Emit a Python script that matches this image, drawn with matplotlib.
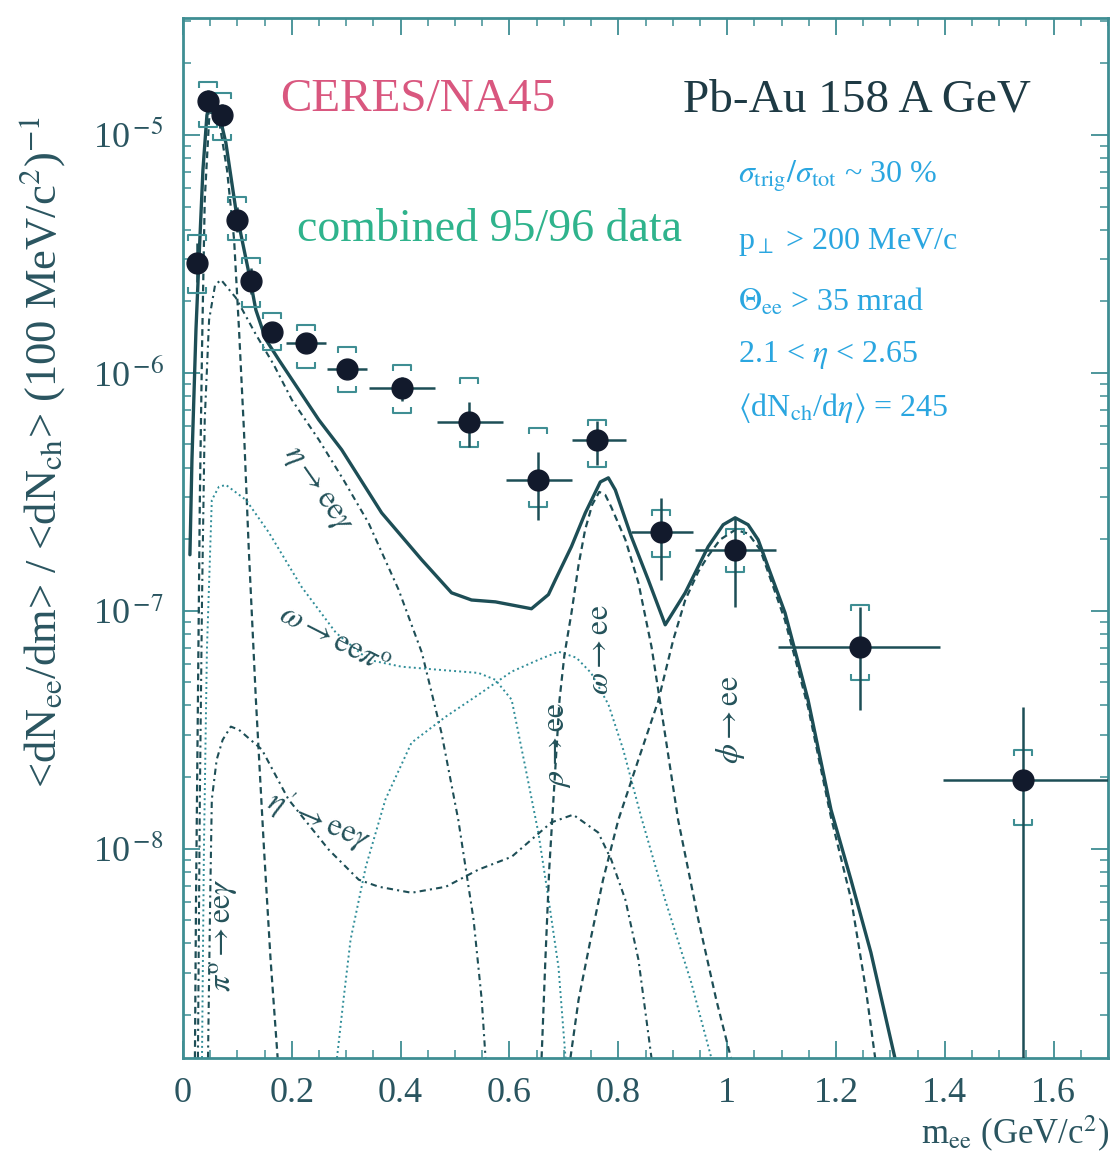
import numpy as np
import matplotlib
matplotlib.use('Agg')
import matplotlib.pyplot as plt
from matplotlib.path import Path
from matplotlib.ticker import MultipleLocator, LogLocator, NullFormatter

# ---------------- data ----------------
mass = [0.026, 0.046, 0.072, 0.099, 0.125, 0.163, 0.226, 0.301, 0.402, 0.525,
        0.653, 0.760, 0.879, 1.015, 1.244, 1.543]
yield_ = [2.9e-6, 1.39e-5, 1.21e-5, 4.4e-6, 2.44e-6, 1.49e-6, 1.34e-6, 1.04e-6,
          8.65e-7, 6.2e-7, 3.55e-7, 5.2e-7, 2.15e-7, 1.8e-7, 7.06e-8, 1.95e-8]
bin_lo = [0.026, 0.046, 0.072, 0.099, 0.125, 0.150, 0.189, 0.264, 0.341, 0.466,
          0.593, 0.714, 0.824, 0.941, 1.094, 1.396]
bin_hi = [0.026, 0.046, 0.072, 0.099, 0.125, 0.178, 0.262, 0.338, 0.464, 0.589,
          0.714, 0.815, 0.938, 1.090, 1.391, 1.700]
stat_hi = [3.5e-6, 1.55e-5, 1.35e-5, 5.0e-6, 2.75e-6, 1.62e-6, 1.45e-6, 1.13e-6,
           9.6e-7, 7.55e-7, 4.65e-7, 6.3e-7, 2.98e-7, 2.48e-7, 1.04e-7, 3.95e-8]
stat_lo = [2.4e-6, 1.22e-5, 1.07e-5, 3.9e-6, 2.15e-6, 1.37e-6, 1.22e-6, 9.5e-7,
           7.6e-7, 4.9e-7, 2.41e-7, 4.1e-7, 1.35e-7, 1.04e-7, 3.84e-8, 1.0e-9]
sys_hi = [3.8e-6, 1.67e-5, 1.5e-5, 5.5e-6, 3.04e-6, 1.79e-6, 1.59e-6, 1.29e-6,
          1.08e-6, 9.5e-7, 5.87e-7, 6.35e-7, 2.65e-7, 2.2e-7, 1.06e-7, 2.61e-8]
sys_lo = [2.17e-6, 1.08e-5, 9.5e-6, 3.62e-6, 1.89e-6, 1.25e-6, 1.05e-6, 8.3e-7,
          6.8e-7, 4.89e-7, 2.73e-7, 4.03e-7, 1.69e-7, 1.45e-7, 5.13e-8, 1.26e-8]

# total cocktail (solid)
tot_m = [0.0128, 0.0165, 0.0239, 0.0294, 0.0367, 0.044, 0.0514, 0.0624, 0.0789, 0.0972,
         0.1211, 0.1339, 0.1523, 0.1761, 0.2128, 0.2495, 0.2917, 0.3651, 0.4385, 0.4936,
         0.5303, 0.5743, 0.6404, 0.6716, 0.6844, 0.7138, 0.7394, 0.767, 0.7817, 0.7945,
         0.8239, 0.855, 0.8862, 0.9229, 0.9651, 0.9927, 1.0147, 1.0385, 1.0569, 1.1064,
         1.1486, 1.1908, 1.2275, 1.2642, 1.3083]
tot_y = [1.72e-7, 4.3e-7, 1.52e-6, 2.99e-6, 7.13e-6, 1.21e-5, 1.43e-5, 1.34e-5, 9.25e-6, 4.84e-6,
         2.63e-6, 1.84e-6, 1.38e-6, 1.135e-6, 8.49e-7, 6.35e-7, 4.75e-7, 2.58e-7, 1.64e-7, 1.19e-7,
         1.11e-7, 1.09e-7, 1.02e-7, 1.17e-7, 1.35e-7, 1.86e-7, 2.58e-7, 3.48e-7, 3.62e-7, 3.22e-7,
         2.05e-7, 1.35e-7, 8.73e-8, 1.19e-7, 1.86e-7, 2.30e-7, 2.46e-7, 2.30e-7, 1.99e-7, 9.8e-8,
         4.23e-8, 1.46e-8, 7.41e-9, 3.66e-9, 1.32e-9]

pi0_m = [0.022, 0.024, 0.0275, 0.031, 0.035, 0.040, 0.048, 0.055, 0.066, 0.081, 0.094,
         0.103, 0.112, 0.121, 0.134, 0.149, 0.161, 0.174]
pi0_y = [1.32e-9, 6.1e-9, 4.23e-8, 2.92e-7, 1.25e-6, 5.33e-6, 1.16e-5, 1.30e-5, 1.16e-5,
         7.13e-6, 3.62e-6, 1.52e-6, 5.77e-7, 1.80e-7, 4.23e-8, 9.9e-9, 3.42e-9, 1.32e-9]

eta_m = [0.0275, 0.031, 0.035, 0.040, 0.048, 0.059, 0.070, 0.097, 0.134, 0.167, 0.200,
         0.250, 0.295, 0.341, 0.396, 0.439, 0.475, 0.506, 0.534, 0.549, 0.556]
eta_y = [1.32e-9, 1.61e-8, 1.11e-7, 6.35e-7, 1.67e-6, 2.34e-6, 2.46e-6, 2.07e-6, 1.45e-6,
         1.08e-6, 7.71e-7, 5.22e-7, 3.55e-7, 2.34e-7, 1.23e-7, 6.67e-8, 3.07e-8, 1.32e-8,
         5.04e-9, 2.32e-9, 1.32e-9]

omd_m = [0.035, 0.0385, 0.044, 0.053, 0.066, 0.079, 0.116, 0.158, 0.218, 0.281, 0.341,
         0.402, 0.470, 0.543, 0.574, 0.604, 0.629, 0.653, 0.672, 0.690, 0.703]
omd_y = [1.32e-9, 9.9e-9, 6.86e-8, 2.92e-7, 3.32e-7, 3.38e-7, 2.92e-7, 2.13e-7, 1.26e-7,
         8.09e-8, 6.22e-8, 5.82e-8, 5.65e-8, 5.48e-8, 5.13e-8, 4.23e-8, 2.21e-8, 1.17e-8,
         6.1e-9, 3.19e-9, 1.32e-9]

etap_m = [0.046, 0.050, 0.053, 0.062, 0.073, 0.088, 0.103, 0.145, 0.194, 0.268, 0.323,
          0.360, 0.420, 0.483, 0.543, 0.604, 0.640, 0.677, 0.717, 0.763, 0.787, 0.813,
          0.837, 0.861]
etap_y = [1.32e-9, 6.1e-9, 1.61e-8, 2.37e-8, 2.87e-8, 3.26e-8, 3.16e-8, 2.61e-8, 1.61e-8,
          9.9e-9, 7.41e-9, 6.92e-9, 6.53e-9, 6.92e-9, 8.17e-9, 9.25e-9, 1.09e-8, 1.29e-8,
          1.39e-8, 1.17e-8, 9.0e-9, 6.1e-9, 3.42e-9, 1.32e-9]

rho_m = [0.283, 0.295, 0.308, 0.336, 0.372, 0.420, 0.483, 0.543, 0.604, 0.653, 0.690,
         0.723, 0.750, 0.782, 0.809, 0.842, 0.886, 0.934, 0.971]
rho_y = [1.32e-9, 2.32e-9, 4.15e-9, 8.4e-9, 1.61e-8, 2.79e-8, 3.59e-8, 4.44e-8, 5.55e-8,
         6.22e-8, 6.73e-8, 6.35e-8, 5.48e-8, 4.03e-8, 2.61e-8, 1.36e-8, 6.1e-9, 2.74e-9,
         1.32e-9]

omee_m = [0.659, 0.666, 0.673, 0.683, 0.692, 0.701, 0.714, 0.727, 0.739, 0.752, 0.765,
          0.776, 0.787, 0.813, 0.837, 0.861, 0.879, 0.910, 0.947, 0.980, 1.007]
omee_y = [1.32e-9, 3.42e-9, 8.17e-9, 1.95e-8, 4.23e-8, 6.53e-8, 9.82e-8, 1.56e-7, 2.19e-7,
          2.79e-7, 3.16e-7, 3.07e-7, 2.73e-7, 1.99e-7, 1.31e-7, 7.06e-8, 3.84e-8, 1.32e-8,
          5.04e-9, 2.32e-9, 1.32e-9]

phi_m = [0.712, 0.727, 0.749, 0.772, 0.800, 0.837, 0.873, 0.901, 0.923, 0.947, 0.965,
         0.987, 1.015, 1.039, 1.061, 1.106, 1.149, 1.191, 1.228, 1.255, 1.272]
phi_y = [1.32e-9, 2.32e-9, 4.15e-9, 7.41e-9, 1.32e-8, 2.37e-8, 4.15e-8, 7.55e-8, 1.11e-7,
         1.46e-7, 1.70e-7, 1.99e-7, 2.19e-7, 2.11e-7, 1.80e-7, 9.16e-8, 3.91e-8, 1.35e-8,
         6.1e-9, 2.56e-9, 1.32e-9]

# ---------------- style ----------------
plt.rcParams['font.family'] = ['Liberation Serif', 'DejaVu Serif']
plt.rcParams['mathtext.fontset'] = 'stix'

axcol = '#3f8e93'
linecol = '#1d4e56'
dotcol = '#2f8d98'
ptcol = '#121a2c'
txtcol = '#2a5560'

fig = plt.figure(figsize=(11.17, 11.68), dpi=100)
fig.patch.set_facecolor('white')
ax = fig.add_axes([0.1638, 0.0942, 0.8282, 0.8904])
ax.set_yscale('log')
ax.set_xlim(0, 1.7)
ax.set_ylim(1.32e-9, 3.1e-5)

# components
ax.plot(pi0_m, pi0_y, color=linecol, lw=1.6, dashes=(3, 2))
ax.plot(eta_m, eta_y, color=linecol, lw=1.5, dashes=(3, 2, 1, 2))
ax.plot(omd_m, omd_y, color=dotcol, lw=1.4, dashes=(1, 1.6))
ax.plot(etap_m, etap_y, color=linecol, lw=1.5, dashes=(3, 2, 1, 2))
ax.plot(rho_m, rho_y, color=dotcol, lw=1.4, dashes=(1, 1.6))
ax.plot(omee_m, omee_y, color=linecol, lw=1.6, dashes=(3, 2))
ax.plot(phi_m, phi_y, color=linecol, lw=1.6, dashes=(3, 2))
ax.plot(tot_m, tot_y, color=linecol, lw=2.4, solid_capstyle='round')

# data
m = np.array(mass)
yv = np.array(yield_)
xerr = [m - np.array(bin_lo), np.array(bin_hi) - m]
yerr = [yv - np.array(stat_lo), np.array(stat_hi) - yv]
ax.errorbar(m, yv, xerr=xerr, yerr=yerr, fmt='o', color=ptcol, ecolor=linecol,
            elinewidth=1.8, ms=15, capsize=0, zorder=5)

top_br = Path([(-1, -0.7), (-1, 0), (1, 0), (1, -0.7)],
              [Path.MOVETO, Path.LINETO, Path.LINETO, Path.LINETO])
bot_br = Path([(-1, 0.7), (-1, 0), (1, 0), (1, 0.7)],
              [Path.MOVETO, Path.LINETO, Path.LINETO, Path.LINETO])
ax.plot(m, sys_hi, ls='none', marker=top_br, ms=13, mfc='none', mec=axcol, mew=1.5, zorder=4)
ax.plot(m, sys_lo, ls='none', marker=bot_br, ms=13, mfc='none', mec=axcol, mew=1.5, zorder=4)

# axes styling
for s in ax.spines.values():
    s.set_color(axcol)
    s.set_linewidth(2.0)
ax.xaxis.set_minor_locator(MultipleLocator(0.05))
ax.yaxis.set_minor_locator(LogLocator(base=10, subs=np.arange(2, 10)))
ax.yaxis.set_minor_formatter(NullFormatter())
ax.set_xticks([0, 0.2, 0.4, 0.6, 0.8, 1.0, 1.2, 1.4, 1.6])
ax.set_xticklabels(['0', '0.2', '0.4', '0.6', '0.8', '1', '1.2', '1.4', '1.6'])
ax.set_yticks([1e-8, 1e-7, 1e-6, 1e-5])
ax.set_yticklabels(['10$^{\\,\\mathrm{-8}}$', '10$^{\\,\\mathrm{-7}}$',
                    '10$^{\\,\\mathrm{-6}}$', '10$^{\\,\\mathrm{-5}}$'])
ax.tick_params(which='both', direction='in', top=True, right=True, colors=axcol,
               labelcolor=txtcol)
ax.tick_params(which='major', length=12, width=1.3, labelsize=26, pad=14)
ax.tick_params(which='minor', length=6, width=1.1)

fig.text(0.038, 1 - 452 / 1168,
         '<dN$_{\\mathrm{ee}}$/dm> / <dN$_{\\mathrm{ch}}$> (100 MeV/c$^2$)$^{\\mathrm{-1}}$',
         fontsize=32, color=txtcol, rotation=90, ha='center', va='center')
fig.text(0.993, 0.012, 'm$_{\\mathrm{ee}}$ (GeV/c$^2$)', ha='right', va='bottom',
         fontsize=25, color=txtcol)

# header texts
ax.text(0.105, 0.921, 'CERES/NA45', transform=ax.transAxes, fontsize=34,
        color='#d9577f', va='center', ha='left')
ax.text(0.540, 0.921, 'Pb-Au 158 A GeV', transform=ax.transAxes, fontsize=34,
        color='#1e3a44', va='center', ha='left')
ax.text(0.123, 0.796, 'combined 95/96 data', transform=ax.transAxes, fontsize=33,
        color='#2fb38c', va='center', ha='left')
bl = '#2aa6e0'
info = ['$\\sigma_{\\mathrm{trig}}/\\sigma_{\\mathrm{tot}}$ ~ 30 %',
        'p$_{\\perp}$ > 200 MeV/c',
        '$\\Theta_{\\mathrm{ee}}$ > 35 mrad',
        '2.1 < $\\eta$ < 2.65',
        '$\\langle$dN$_{\\mathrm{ch}}$/d$\\eta\\rangle$ = 245']
info_y = [0.848, 0.785, 0.727, 0.676, 0.625]
for t, yy in zip(info, info_y):
    ax.text(0.600, yy, t, transform=ax.transAxes, fontsize=23, color=bl,
            va='center', ha='left')

# component labels
lc = '#24525a'
fs = 23
ax.text(0.246, 3.22e-7, '$\\eta \\rightarrow \\mathrm{ee}\\gamma$', fontsize=fs, color=lc,
        rotation=-55, ha='center', va='center')
ax.text(0.277, 7.55e-8, '$\\omega \\rightarrow \\mathrm{ee}\\pi^{\\mathrm{o}}$', fontsize=fs,
        color=lc, rotation=-27, ha='center', va='center')
ax.text(0.250, 1.32e-8, "$\\eta' \\rightarrow \\mathrm{ee}\\gamma$", fontsize=fs, color=lc,
        rotation=-23, ha='center', va='center')
ax.text(0.075, 4.36e-9, '$\\pi^{\\mathrm{o}} \\rightarrow \\mathrm{ee}\\gamma$', fontsize=fs,
        color=lc, rotation=90, ha='center', va='center')
ax.text(0.690, 2.73e-8, '$\\rho \\rightarrow \\mathrm{ee}$', fontsize=fs, color=lc,
        rotation=90, ha='center', va='center')
ax.text(0.767, 6.85e-8, '$\\omega \\rightarrow \\mathrm{ee}$', fontsize=fs, color=lc,
        rotation=90, ha='center', va='center')
ax.text(1.007, 3.48e-8, '$\\phi \\rightarrow \\mathrm{ee}$', fontsize=fs, color=lc,
        rotation=90, ha='center', va='center')

fig.savefig('out.png', dpi=100, facecolor='white')
